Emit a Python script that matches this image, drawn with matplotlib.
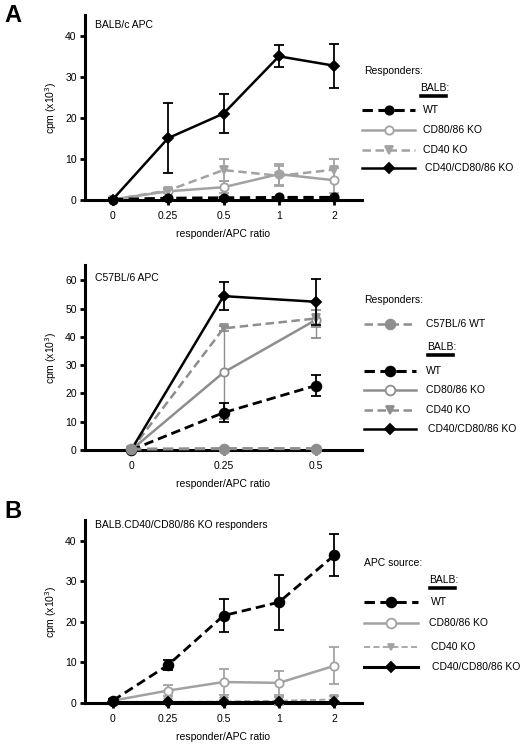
import matplotlib
matplotlib.use("Agg")
import matplotlib.pyplot as plt
from matplotlib.lines import Line2D
import numpy as np

plt.rcParams['font.family'] = ['Liberation Sans', 'DejaVu Sans']
plt.rcParams['font.size'] = 7.5

# ---------------- data ----------------
ratios_A = ['0', '0.25', '0.5', '1', '2']
A_WT = [0.0, 0.3, 0.4, 0.5, 0.5]
A_WT_err = [0.0, 0.2, 0.2, 0.2, 0.2]
A_CD8086 = [0.0, 2.0, 3.0, 6.2, 4.7]
A_CD8086_err = [0.3, 0.5, 1.5, 2.6, 3.0]
A_CD40 = [0.0, 2.2, 7.2, 5.8, 7.3]
A_CD40_err = [0.3, 0.5, 2.6, 2.4, 2.5]
A_TKO = [0.0, 15.0, 21.0, 35.0, 32.7]
A_TKO_err = [0.3, 8.5, 4.8, 2.7, 5.4]

ratios_C = ['0', '0.25', '0.5']
C_B6WT = [0.3, 0.5, 0.5]
C_B6WT_err = [0.1, 0.2, 0.2]
C_WT = [0.0, 13.2, 22.8]
C_WT_err = [0.0, 3.4, 3.8]
C_CD8086 = [0.0, 27.4, 46.0]
C_CD8086_err = [0.0, 16.5, 6.5]
C_CD40 = [0.0, 43.0, 46.5]
C_CD40_err = [0.0, 1.0, 3.0]
C_TKO = [0.0, 54.4, 52.4]
C_TKO_err = [0.0, 4.9, 8.2]

ratios_B = ['0', '0.25', '0.5', '1', '2']
B_WT = [0.5, 9.3, 21.5, 24.8, 36.4]
B_WT_err = [0.3, 1.3, 4.0, 6.8, 5.2]
B_CD8086 = [0.5, 3.0, 5.1, 4.9, 9.1]
B_CD8086_err = [0.3, 1.3, 3.3, 3.0, 4.6]
B_CD40 = [0.2, 0.2, 0.3, 0.5, 0.8]
B_CD40_err = [0.1, 0.2, 0.3, 1.0, 0.8]
B_TKO = [0.1, 0.1, 0.1, 0.1, 0.1]
B_TKO_err = [0.0, 0.0, 0.0, 0.0, 0.0]

# ---------------- styles ----------------
GRAY = '#a2a2a2'
GRAY2 = '#8e8e8e'
DASH = (0, (3.4, 1.8))

W, H = 522, 750
fig = plt.figure(figsize=(W / 100, H / 100), dpi=100)


def ax_rect(px_left, px_right, px_top, px_bottom):
    return [px_left / W, 1 - px_bottom / H, (px_right - px_left) / W, (px_bottom - px_top) / H]


def style_axes(ax, labels, ymax, yticks):
    n = len(labels)
    ax.set_xlim(-0.5, n - 0.5)
    ax.set_ylim(0, ymax)
    ax.set_xticks(range(n))
    ax.set_xticklabels(labels)
    ax.set_yticks(yticks)
    for s in ['top', 'right']:
        ax.spines[s].set_visible(False)
    for s in ['left', 'bottom']:
        ax.spines[s].set_linewidth(2.2)
        ax.spines[s].set_zorder(1)
    ax.tick_params(width=2.0, length=3.5, labelsize=7.5)
    ax.tick_params(axis='x', pad=4.5)
    ax.tick_params(axis='y', pad=2.5)
    ax.set_xlabel('responder/APC ratio', fontsize=7.5, labelpad=6)
    ax.set_ylabel('cpm (x10$^3$)', fontsize=7.5, labelpad=4)


def series(ax, x, y, e, color, ls, marker, mfc, lw=1.8, ms=6.0, z=3, elw=1.3):
    ax.errorbar(x, y, yerr=e, color=color, ls=ls, lw=lw, marker=marker, mfc=mfc,
                mec=color, mew=1.3, ms=ms, capsize=3.6, capthick=1.3, elinewidth=elw,
                zorder=z, clip_on=False)


def leg_entry(x0, x1, y, color, ls, marker, mfc, text, tx, lw=1.8, ms=6.0):
    fx0, fx1 = x0 / W, x1 / W
    fy = 1 - y / H
    fig.add_artist(Line2D([fx0, fx1], [fy, fy], color=color, ls=ls, lw=lw,
                          transform=fig.transFigure))
    fig.add_artist(Line2D([(fx0 + fx1) / 2], [fy], color=color, ls='none', marker=marker,
                          mfc=mfc, mec=color, mew=1.3, ms=ms, transform=fig.transFigure))
    fig.text(tx / W, fy, text, fontsize=7.5, va='center', ha='left')


def balb_header(x, y):
    fig.text(x / W, 1 - y / H, 'BALB:', fontsize=7.5, va='center', ha='left')
    fig.add_artist(Line2D([(x + 1) / W, (x + 26) / W], [1 - (y + 8) / H] * 2, color='black',
                          lw=2.6, transform=fig.transFigure))


# ---------------- Panel A (BALB/c APC) ----------------
ax1 = fig.add_axes(ax_rect(85, 362, 15, 199.5))
xA = np.arange(len(ratios_A))
series(ax1, xA, A_CD8086, A_CD8086_err, GRAY, '-', 'o', 'white', z=3)
series(ax1, xA, A_CD40, A_CD40_err, GRAY, DASH, 'v', GRAY, z=3)
series(ax1, xA, A_TKO, A_TKO_err, 'black', '-', 'D', 'black', ms=5.5, z=4)
series(ax1, xA, A_WT, A_WT_err, 'black', DASH, 'o', 'black', lw=2.2, z=5)
style_axes(ax1, ratios_A, 45.1, [0, 10, 20, 30, 40])
ax1.text(0.036, 0.945, 'BALB/c APC', transform=ax1.transAxes, fontsize=7.5,
         va='center', ha='left')

fig.text(364 / W, 1 - 71 / H, 'Responders:', fontsize=7.5, va='center', ha='left')
balb_header(420, 88)
leg_entry(362, 415, 110, 'black', DASH, 'o', 'black', 'WT', 423, lw=2.2)
leg_entry(362, 415, 130, GRAY, '-', 'o', 'white', 'CD80/86 KO', 423)
leg_entry(362, 415, 150, GRAY, DASH, 'v', GRAY, 'CD40 KO', 423)
leg_entry(362, 415, 168, 'black', '-', 'D', 'black', 'CD40/CD80/86 KO', 425, ms=5.5)

# ---------------- Panel A2 (C57BL/6 APC) ----------------
ax2 = fig.add_axes(ax_rect(85, 362, 265, 450))
xC = np.arange(len(ratios_C))
series(ax2, xC, C_CD8086, C_CD8086_err, GRAY2, '-', 'o', 'white', z=3, elw=1.0)
series(ax2, xC, C_CD40, C_CD40_err, GRAY2, DASH, 'v', GRAY2, z=3)
series(ax2, xC, C_WT, C_WT_err, 'black', DASH, 'o', 'black', lw=2.0, ms=7, z=4)
series(ax2, xC, C_TKO, C_TKO_err, 'black', '-', 'D', 'black', ms=5.5, z=4)
series(ax2, xC, C_B6WT, C_B6WT_err, GRAY2, DASH, 'o', GRAY2, lw=2.2, ms=7, z=5)
style_axes(ax2, ratios_C, 65.4, [0, 10, 20, 30, 40, 50, 60])
ax2.text(0.036, 0.93, 'C57BL/6 APC', transform=ax2.transAxes, fontsize=7.5,
         va='center', ha='left')

fig.text(364 / W, 1 - 300 / H, 'Responders:', fontsize=7.5, va='center', ha='left')
leg_entry(364, 416, 324, GRAY2, DASH, 'o', GRAY2, 'C57BL/6 WT', 426, ms=7)
balb_header(427, 347)
leg_entry(364, 416, 371, 'black', DASH, 'o', 'black', 'WT', 426, lw=2.2, ms=7)
leg_entry(364, 416, 390, GRAY2, '-', 'o', 'white', 'CD80/86 KO', 426, ms=7)
leg_entry(364, 416, 410, GRAY2, DASH, 'v', GRAY2, 'CD40 KO', 426)
leg_entry(364, 416, 429, 'black', '-', 'D', 'black', 'CD40/CD80/86 KO', 428, ms=5.5)

# ---------------- Panel B ----------------
ax3 = fig.add_axes(ax_rect(85, 362, 520, 702.7))
xB = np.arange(len(ratios_B))
series(ax3, xB, B_CD40, B_CD40_err, GRAY, DASH, 'v', GRAY, lw=1.3, z=3)
series(ax3, xB, B_CD8086, B_CD8086_err, GRAY, '-', 'o', 'white', z=3)
series(ax3, xB, B_WT, B_WT_err, 'black', DASH, 'o', 'black', lw=2.0, ms=7, z=4)
series(ax3, xB, B_TKO, B_TKO_err, 'black', '-', 'D', 'black', lw=2.2, ms=5.5, z=5)
style_axes(ax3, ratios_B, 45.1, [0, 10, 20, 30, 40])
ax3.text(0.036, 0.97, 'BALB.CD40/CD80/86 KO responders', transform=ax3.transAxes,
         fontsize=7.5, va='center', ha='left')

fig.text(364 / W, 1 - 563 / H, 'APC source:', fontsize=7.5, va='center', ha='left')
balb_header(429, 580)
leg_entry(364, 418, 602, 'black', DASH, 'o', 'black', 'WT', 431, lw=2.2, ms=7)
leg_entry(364, 418, 623, GRAY, '-', 'o', 'white', 'CD80/86 KO', 429, ms=7)
leg_entry(364, 418, 647, GRAY, DASH, 'v', GRAY, 'CD40 KO', 431, lw=1.3, ms=4.5)
leg_entry(364, 418, 667, 'black', '-', 'D', 'black', 'CD40/CD80/86 KO', 432, lw=2.2, ms=5.5)

# panel letters
fig.text(4 / W, 1 - 16 / H, 'A', fontsize=17, fontweight='bold', va='center', ha='left')
fig.text(4 / W, 1 - 512 / H, 'B', fontsize=17, fontweight='bold', va='center', ha='left')

fig.savefig('out.png', dpi=100)
